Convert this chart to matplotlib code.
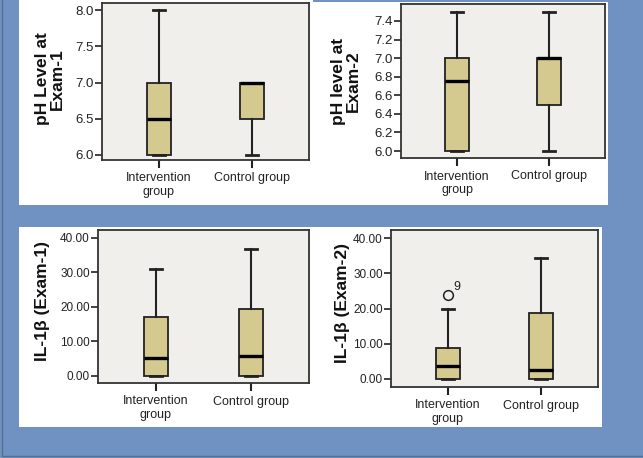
import matplotlib
matplotlib.use("Agg")
import matplotlib.pyplot as plt
from matplotlib.patches import Rectangle

plt.rcParams['font.family'] = ['Liberation Sans', 'DejaVu Sans']

# groups on the x axis
groups = ["Intervention\ngroup", "Control group"]

# per panel: [intervention, control] -> whislo, q1, med, q3, whishi
ph1_lo = [6.0, 6.0]
ph1_q1 = [6.0, 6.5]
ph1_med = [6.5, 7.0]
ph1_q3 = [7.0, 7.0]
ph1_hi = [8.0, 7.0]

ph2_lo = [6.0, 6.0]
ph2_q1 = [6.0, 6.5]
ph2_med = [6.75, 7.0]
ph2_q3 = [7.0, 7.0]
ph2_hi = [7.5, 7.5]

il1_lo = [0.0, 0.0]
il1_q1 = [0.0, 0.0]
il1_med = [5.2, 5.9]
il1_q3 = [17.0, 19.5]
il1_hi = [31.0, 36.8]

il2_lo = [0.0, 0.0]
il2_q1 = [0.0, 0.0]
il2_med = [3.7, 2.6]
il2_q3 = [8.7, 18.6]
il2_hi = [19.8, 34.5]
il2_outliers = [[24.0], []]
il2_outlier_ids = [["9"], []]

W, H = 643, 458
BLUE = '#6f92c2'
BOXC = '#d4c98e'
PLOTBG = '#f1efec'

fig = plt.figure(figsize=(W / 100, H / 100), dpi=100)
fig.patch.set_facecolor(BLUE)


def prect(x0, y0, x1, y1, **kw):
    fig.patches.append(Rectangle((x0 / W, 1 - y1 / H), (x1 - x0) / W, (y1 - y0) / H,
                                 transform=fig.transFigure, zorder=-5, **kw))


# white panels
prect(19, 0, 608, 205, facecolor='white', edgecolor='none')
prect(313, 0, 608, 2, facecolor=BLUE, edgecolor='none')
prect(19, 227, 602, 427, facecolor='white', edgecolor='none')
# thin dark border of the picture
prect(2, -5, 700, 456, facecolor='none', edgecolor='#5a6f8c', linewidth=1)


def panel(box, lo, q1, med, q3, hi, ylim, ticks, fmt, ylabel, lab_xy, tsize,
          fliers=None, flier_ids=None):
    x0, y0, x1, y1 = box
    ax = fig.add_axes([x0 / W, 1 - y1 / H, (x1 - x0) / W, (y1 - y0) / H])
    ax.set_facecolor(PLOTBG)
    stats = []
    for i in range(len(groups)):
        stats.append(dict(whislo=lo[i], q1=q1[i], med=med[i], q3=q3[i], whishi=hi[i],
                          fliers=(fliers[i] if fliers else [])))
    ax.bxp(stats, positions=[1, 2], widths=0.26, capwidths=0.13, patch_artist=True,
           boxprops=dict(facecolor=BOXC, edgecolor='#222222', linewidth=1.3),
           medianprops=dict(color='black', linewidth=2.4),
           whiskerprops=dict(color='#222222', linewidth=1.5),
           capprops=dict(color='#222222', linewidth=2.0),
           flierprops=dict(marker='o', markerfacecolor='none', markeredgecolor='#222222',
                           markersize=7, markeredgewidth=1.1))
    if fliers:
        for i, (vals, ids) in enumerate(zip(fliers, flier_ids)):
            for v, t in zip(vals, ids):
                ax.annotate(t, (i + 1, v), xytext=(4, 3), textcoords='offset points',
                            fontsize=9, color='#222222')
    ax.set_xlim(0.39, 2.61)
    ax.set_ylim(*ylim)
    ax.set_yticks(ticks)
    ax.set_yticklabels([fmt.format(t) for t in ticks], fontsize=tsize, color='#222222')
    ax.set_xticks([1, 2])
    ax.set_xticklabels(groups, fontsize=9, color='#222222', linespacing=1.15)
    ax.tick_params(axis='y', length=5, width=1.2, pad=1, color='#222222')
    ax.tick_params(axis='x', length=6, width=1.5, pad=3, color='#222222')
    for s in ax.spines.values():
        s.set_color('#333333')
        s.set_linewidth(1.3)
    fig.text(lab_xy[0] / W, 1 - lab_xy[1] / H, ylabel, rotation=90, ha='center',
             va='center', fontsize=12.5, fontweight='bold', linespacing=0.95,
             multialignment='center', color='#111111')
    return ax


panel((102, 3, 309, 160), ph1_lo, ph1_q1, ph1_med, ph1_q3, ph1_hi,
      (5.93, 8.1), [6.0, 6.5, 7.0, 7.5, 8.0], "{:.1f}", "pH Level at\nExam-1", (50, 79), 9.5)

panel((401, 4, 605, 158), ph2_lo, ph2_q1, ph2_med, ph2_q3, ph2_hi,
      (5.925, 7.583), [6.0, 6.2, 6.4, 6.6, 6.8, 7.0, 7.2, 7.4], "{:.1f}",
      "pH level at\nExam-2", (346, 81), 9.5)

panel((98, 230, 309, 383), il1_lo, il1_q1, il1_med, il1_q3, il1_hi,
      (-2.03, 42.3), [0, 10, 20, 30, 40], "{:.2f}", "IL-1β (Exam-1)", (42, 301), 8.5)

panel((391, 230, 598, 387), il2_lo, il2_q1, il2_med, il2_q3, il2_hi,
      (-2.36, 42.4), [0, 10, 20, 30, 40], "{:.2f}", "IL-1β (Exam-2)", (342, 303), 8.5,
      fliers=il2_outliers, flier_ids=il2_outlier_ids)

fig.savefig("out.png", dpi=100, facecolor=fig.get_facecolor())
